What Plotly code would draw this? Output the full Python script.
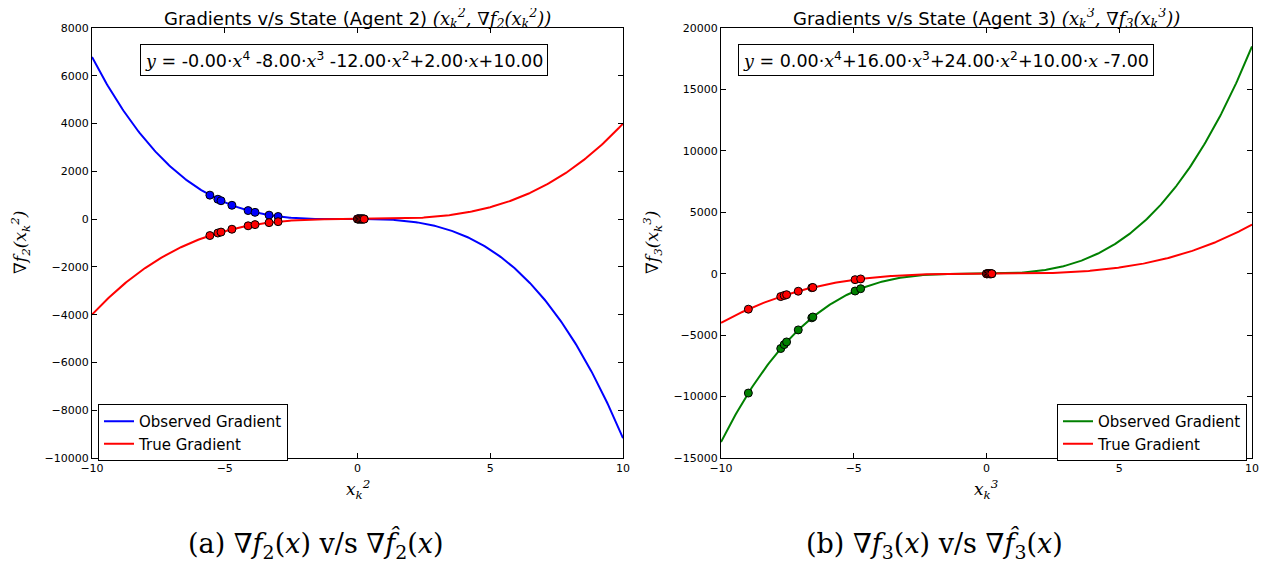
import numpy as np
import plotly.graph_objects as go

# ---------------- data ----------------
x_range = [-10, 10]
x_ticks = [-10, -5, 0, 5, 10]
y2_ticks = [-10000, -8000, -6000, -4000, -2000, 0, 2000, 4000, 6000, 8000]
y3_ticks = [-15000, -10000, -5000, 0, 5000, 10000, 15000, 20000]

# polynomial coefficients (highest power first) shown in the chart
obs2_coef = [-0.00, -8.00, -12.00, 2.00, 10.00]
obs3_coef = [0.00, 16.00, 24.00, 10.00, -7.00]
true_coef = [0.00, 4.00, 0.00, 0.00, 0.00]

# sampled states (x) of agent 2 and agent 3
states2 = [-5.56, -5.26, -5.14, -4.73, -4.12, -3.86, -3.33, -2.99,
           0.00, 0.05, 0.10, 0.15, 0.20, 0.25]
states3 = [-8.97, -7.75, -7.62, -7.53, -7.09, -6.58, -6.54, -4.95, -4.74,
           0.00, 0.05, 0.10, 0.15, 0.20]

xs = np.linspace(-10, 10, 401)

fig = go.Figure()

# page body has an 8px margin; figure sized so page = 1270x565
OFF = 8
W, H = 1262, 557
def px(x):
    return (x - OFF) / W
def py(y):
    return 1 - (y - OFF) / H

L1, R1 = 92, 623
L2, R2 = 721, 1252
T, B = 28, 458

# ---- left panel (agent 2) ----
fig.add_trace(go.Scatter(x=xs, y=np.polyval(obs2_coef, xs), mode="lines",
                         line=dict(color="blue", width=2),
                         name="Observed Gradient", legend="legend",
                         xaxis="x", yaxis="y"))
fig.add_trace(go.Scatter(x=xs, y=np.polyval(true_coef, xs), mode="lines",
                         line=dict(color="red", width=2),
                         name="True Gradient", legend="legend",
                         xaxis="x", yaxis="y"))
s2 = np.array(states2)
fig.add_trace(go.Scatter(x=s2, y=np.polyval(obs2_coef, s2), mode="markers",
                         marker=dict(color="blue", size=8, line=dict(color="black", width=1)),
                         showlegend=False, xaxis="x", yaxis="y"))
fig.add_trace(go.Scatter(x=s2, y=np.polyval(true_coef, s2), mode="markers",
                         marker=dict(color="red", size=8, line=dict(color="black", width=1)),
                         showlegend=False, xaxis="x", yaxis="y"))

# ---- right panel (agent 3) ----
fig.add_trace(go.Scatter(x=xs, y=np.polyval(obs3_coef, xs), mode="lines",
                         line=dict(color="green", width=2),
                         name="Observed Gradient", legend="legend2",
                         xaxis="x2", yaxis="y2"))
fig.add_trace(go.Scatter(x=xs, y=np.polyval(true_coef, xs), mode="lines",
                         line=dict(color="red", width=2),
                         name="True Gradient", legend="legend2",
                         xaxis="x2", yaxis="y2"))
s3 = np.array(states3)
fig.add_trace(go.Scatter(x=s3, y=np.polyval(obs3_coef, s3), mode="markers",
                         marker=dict(color="green", size=8, line=dict(color="black", width=1)),
                         showlegend=False, xaxis="x2", yaxis="y2"))
fig.add_trace(go.Scatter(x=s3, y=np.polyval(true_coef, s3), mode="markers",
                         marker=dict(color="red", size=8, line=dict(color="black", width=1)),
                         showlegend=False, xaxis="x2", yaxis="y2"))

tickfont = dict(family="DejaVu Sans", size=11, color="black")
ax_common = dict(showline=True, linecolor="black", linewidth=1, mirror="allticks",
                 ticks="inside", ticklen=5, tickcolor="black", showgrid=False,
                 zeroline=False, tickfont=tickfont, automargin=False,
                 tickformat="d")

legfont = dict(family="DejaVu Sans", size=15, color="black")
fig.update_layout(
    width=W, height=H,
    margin=dict(l=0, r=0, t=0, b=0),
    paper_bgcolor="white", plot_bgcolor="white",
    xaxis=dict(domain=[px(L1), px(R1)], range=x_range, tickvals=x_ticks, anchor="y", **ax_common),
    yaxis=dict(domain=[py(B), py(T)], range=[-10000, 8000], tickvals=y2_ticks, anchor="x", **ax_common),
    xaxis2=dict(domain=[px(L2), px(R2)], range=x_range, tickvals=x_ticks, anchor="y2", **ax_common),
    yaxis2=dict(domain=[py(B), py(T)], range=[-15000, 20000], tickvals=y3_ticks, anchor="x2", **ax_common),
    legend=dict(x=px(98), y=py(404), xanchor="left", yanchor="top",
                bordercolor="black", borderwidth=1, bgcolor="white",
                font=legfont, itemwidth=30, tracegroupgap=0),
    legend2=dict(x=px(1247), y=py(404), xanchor="right", yanchor="top",
                 bordercolor="black", borderwidth=1, bgcolor="white",
                 font=legfont, itemwidth=30, tracegroupgap=0),
)

serif = "font-family:'DejaVu Serif'"
def sm(t):
    return f"<span style=\"{serif}\"><i>{t}</i></span>"

title2 = ("Gradients v/s State (Agent 2) "
          + sm("(x<sub>k</sub><sup>2</sup>, ∇f<sub>2</sub>(x<sub>k</sub><sup>2</sup>))"))
title3 = ("Gradients v/s State (Agent 3) "
          + sm("(x<sub>k</sub><sup>3</sup>, ∇f<sub>3</sub>(x<sub>k</sub><sup>3</sup>))"))

def xi(p):
    return sm("x") + f"<sup>{p}</sup>"

eq2 = (sm("y") + " = -0.00·" + xi(4) + " -8.00·" + xi(3) + " -12.00·" + xi(2)
       + "+2.00·" + sm("x") + "+10.00")
eq3 = (sm("y") + " = 0.00·" + xi(4) + "+16.00·" + xi(3) + "+24.00·" + xi(2)
       + "+10.00·" + sm("x") + " -7.00")

ann = []
for cx, t in [((L1 + R1) / 2, title2), ((L2 + R2) / 2, title3)]:
    ann.append(dict(x=px(cx), y=py(18.5), xref="paper", yref="paper", xanchor="center",
                    yanchor="middle", text=t, showarrow=False,
                    font=dict(family="DejaVu Sans", size=18, color="black")))
for cx, t in [(344, eq2), (946, eq3)]:
    ann.append(dict(x=px(cx), y=py(60), xref="paper", yref="paper", xanchor="center",
                    yanchor="middle", text=t, showarrow=False, bgcolor="white",
                    bordercolor="black", borderwidth=1, borderpad=4,
                    font=dict(family="DejaVu Sans", size=17.5, color="black")))
# axis labels
for cx, p in [((L1 + R1) / 2, 2), ((L2 + R2) / 2, 3)]:
    ann.append(dict(x=px(cx), y=py(490), xref="paper", yref="paper", xanchor="center",
                    yanchor="middle", showarrow=False,
                    text=sm(f"x<sub>k</sub><sup>{p}</sup>"),
                    font=dict(size=17, color="black")))
for cx, p in [(20, 2), (652, 3)]:
    ann.append(dict(x=px(cx), y=py((T + B) / 2), xref="paper", yref="paper", xanchor="center",
                    yanchor="middle", showarrow=False, textangle=-90,
                    text=sm(f"∇f<sub>{p}</sub>(x<sub>k</sub><sup>{p}</sup>)"),
                    font=dict(size=17, color="black")))
# captions
for cx, lab, p in [(316, "(a)", 2), (934, "(b)", 3)]:
    ann.append(dict(x=px(cx), y=py(544), xref="paper", yref="paper", xanchor="center",
                    yanchor="middle", showarrow=False,
                    text=(f"{lab} ∇<i>f</i><sub>{p}</sub>(<i>x</i>) v/s ∇<i>f\u0302</i><sub>{p}</sub>(<i>x</i>)"),
                    font=dict(family="DejaVu Serif", size=27, color="black")))
fig.update_layout(annotations=ann)

fig.write_html("out.html")
